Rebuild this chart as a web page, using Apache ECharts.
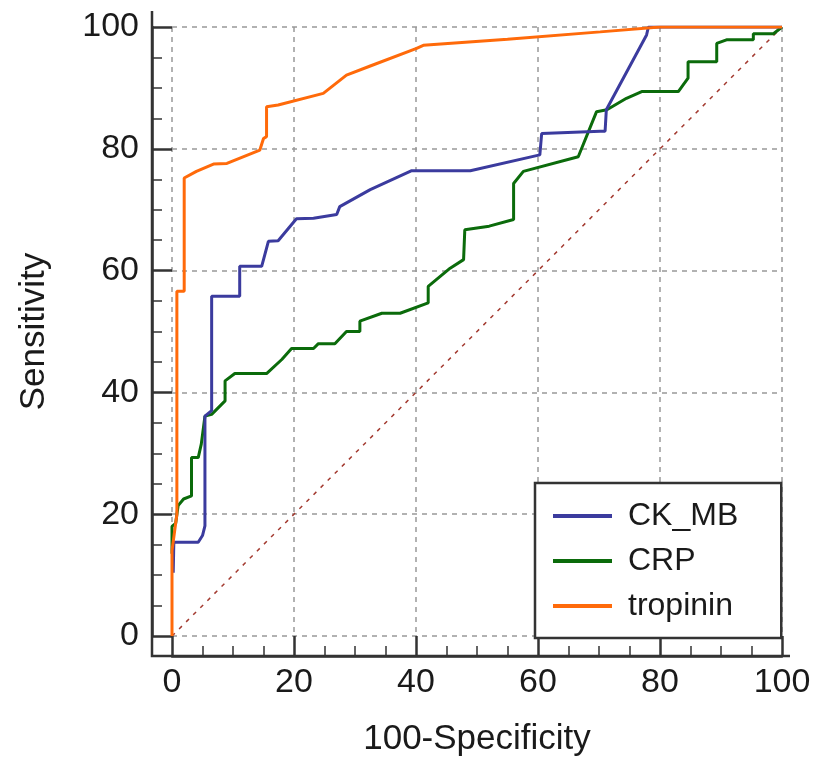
<!DOCTYPE html>
<html>
<head>
<meta charset="utf-8">
<script src="https://cdn.jsdelivr.net/npm/echarts@6/dist/echarts.min.js"></script>
<style>html,body{margin:0;padding:0;background:#fff}#c{width:816px;height:762px}</style>
</head>
<body>
<div id="c"></div>
<script>
const xTicks = [0, 20, 40, 60, 80, 100];
const yTicks = [0, 20, 40, 60, 80, 100];
const seriesNames = ['CK_MB', 'CRP', 'tropinin'];
const ckmb = [[0.2,10.4],[0.3,15.4],[4.3,15.4],[5,16.5],[5.4,18.1],[5.4,36.1],[6.5,37],[6.5,55.8],[11.1,55.8],[11.1,60.7],[14.7,60.7],[15,61.8],[15.8,64.8],[17.4,64.9],[20.4,68.5],[23.2,68.6],[27,69.2],[27.5,70.5],[32.5,73.3],[39.3,76.4],[48.9,76.4],[60.3,79],[60.6,82.5],[70.2,82.9],[71,82.9],[71.2,86.4],[77.8,98.7],[78.1,100],[80,100],[100,100]];
const crp = [[0,13.5],[0,18],[0.6,18.5],[0.9,18.5],[1,21.4],[1.9,22.5],[3.2,23],[3.2,29.3],[4.3,29.3],[4.8,31.5],[5.4,36.1],[6.5,36.4],[8.7,38.6],[8.7,41.9],[10.3,43.1],[15.5,43.1],[18,45.4],[19.6,47.2],[23.2,47.2],[24,48],[26.7,48],[28.6,50],[30.8,50],[30.8,51.7],[34.4,53],[37.4,53],[42,54.7],[42,57.4],[45.6,60.4],[47.8,61.8],[48,66.7],[52,67.3],[56,68.4],[56,74.3],[57.6,76.3],[66.6,78.7],[69.6,86.1],[71.3,86.4],[74.5,88.3],[77,89.4],[83,89.4],[84.6,91.6],[84.6,94.3],[89.3,94.3],[89.3,97.3],[90.9,97.9],[95.3,97.9],[95.3,98.9],[98.6,98.9],[100,100]];
const tropinin = [[0,0],[0,14],[0.8,20],[0.8,56.6],[2,56.6],[2,75.2],[4,76.3],[6.8,77.5],[9,77.6],[14.4,79.8],[15,81.7],[15.5,82],[15.5,86.9],[17.4,87.2],[24.8,89.1],[28.6,92.1],[32.5,93.6],[40.1,96.5],[41.2,97],[55,98],[70.2,99.2],[80,100],[100,100]];
const diagonal = [[0,0],[100,100]];
const colors = ['#3b3b9e', '#0b6b0b', '#ff6a0a'];

const chart = echarts.init(document.getElementById('c'), null, {renderer: 'canvas'});
const font = 'Liberation Sans, Arial, sans-serif';
const axisColor = '#333';
function axis(name, ticks, isX) {
  return {
    type: 'value', min: ticks[0], max: ticks[ticks.length-1], interval: ticks[1]-ticks[0],
    offset: 20,
    name: name, nameLocation: 'middle', nameGap: isX ? 66 : 100,
    nameTextStyle: {fontFamily: font, fontSize: 35, color: '#1a1a1a'},
    axisLine: {show: true, onZero: false, lineStyle: {color: axisColor, width: 2.5}},
    axisTick: {show: true, inside: true, length: 20, lineStyle: {color: axisColor, width: 2.5}},
    minorTick: {show: true, splitNumber: 4, length: 10, lineStyle: {color: axisColor, width: 1.5}},
    axisLabel: {fontFamily: font, fontSize: 34, color: '#1a1a1a', margin: isX ? 10 : 13},
    splitLine: {show: true, lineStyle: {color: '#999', type: [5, 5], width: 1.5}}
  };
}
chart.setOption({
  animation: false,
  grid: {left: 172, right: 34, top: 27, bottom: 125, containLabel: false},
  xAxis: axis('100-Specificity', xTicks, true),
  yAxis: axis('Sensitivity', yTicks, false),
  legend: {
    data: seriesNames, orient: 'vertical', left: 535, top: 483,
    backgroundColor: '#fff', borderColor: '#333', borderWidth: 2.5, borderRadius: 0,
    padding: [17, 43, 16, 18], itemGap: 13, itemWidth: 59, itemHeight: 4,
    icon: 'rect',
    textStyle: {fontFamily: font, fontSize: 32, color: '#1a1a1a', lineHeight: 26, padding: [0,0,0,11]}
  },
  series: [
    {name: 'diag', type: 'line', data: diagonal, symbol: 'none', silent: true,
     lineStyle: {color: '#a33a30', width: 1.5, type: [4, 6]}, z: 1},
    {name: seriesNames[0], type: 'line', data: ckmb, symbol: 'none', color: colors[0], lineStyle: {width: 3}, z: 3},
    {name: seriesNames[1], type: 'line', data: crp, symbol: 'none', color: colors[1], lineStyle: {width: 3}, z: 2},
    {name: seriesNames[2], type: 'line', data: tropinin, symbol: 'none', color: colors[2], lineStyle: {width: 3}, z: 4}
  ]
});
// extend the axis lines to the corner, as in the reference frame
const p0 = chart.convertToPixel({gridIndex: 0}, [xTicks[0], yTicks[0]]);
const p1 = chart.convertToPixel({gridIndex: 0}, [xTicks[xTicks.length-1], yTicks[yTicks.length-1]]);
const ax = p0[0] - 20, ay = p0[1] + 20;
chart.setOption({
  graphic: [
    {type: 'polyline', silent: true, z: 10,
     shape: {points: [[ax, p1[1] - 16], [ax, ay], [p1[0] + 8, ay]]},
     style: {stroke: axisColor, lineWidth: 2.5, fill: null}}
  ]
});
</script>
</body>
</html>
